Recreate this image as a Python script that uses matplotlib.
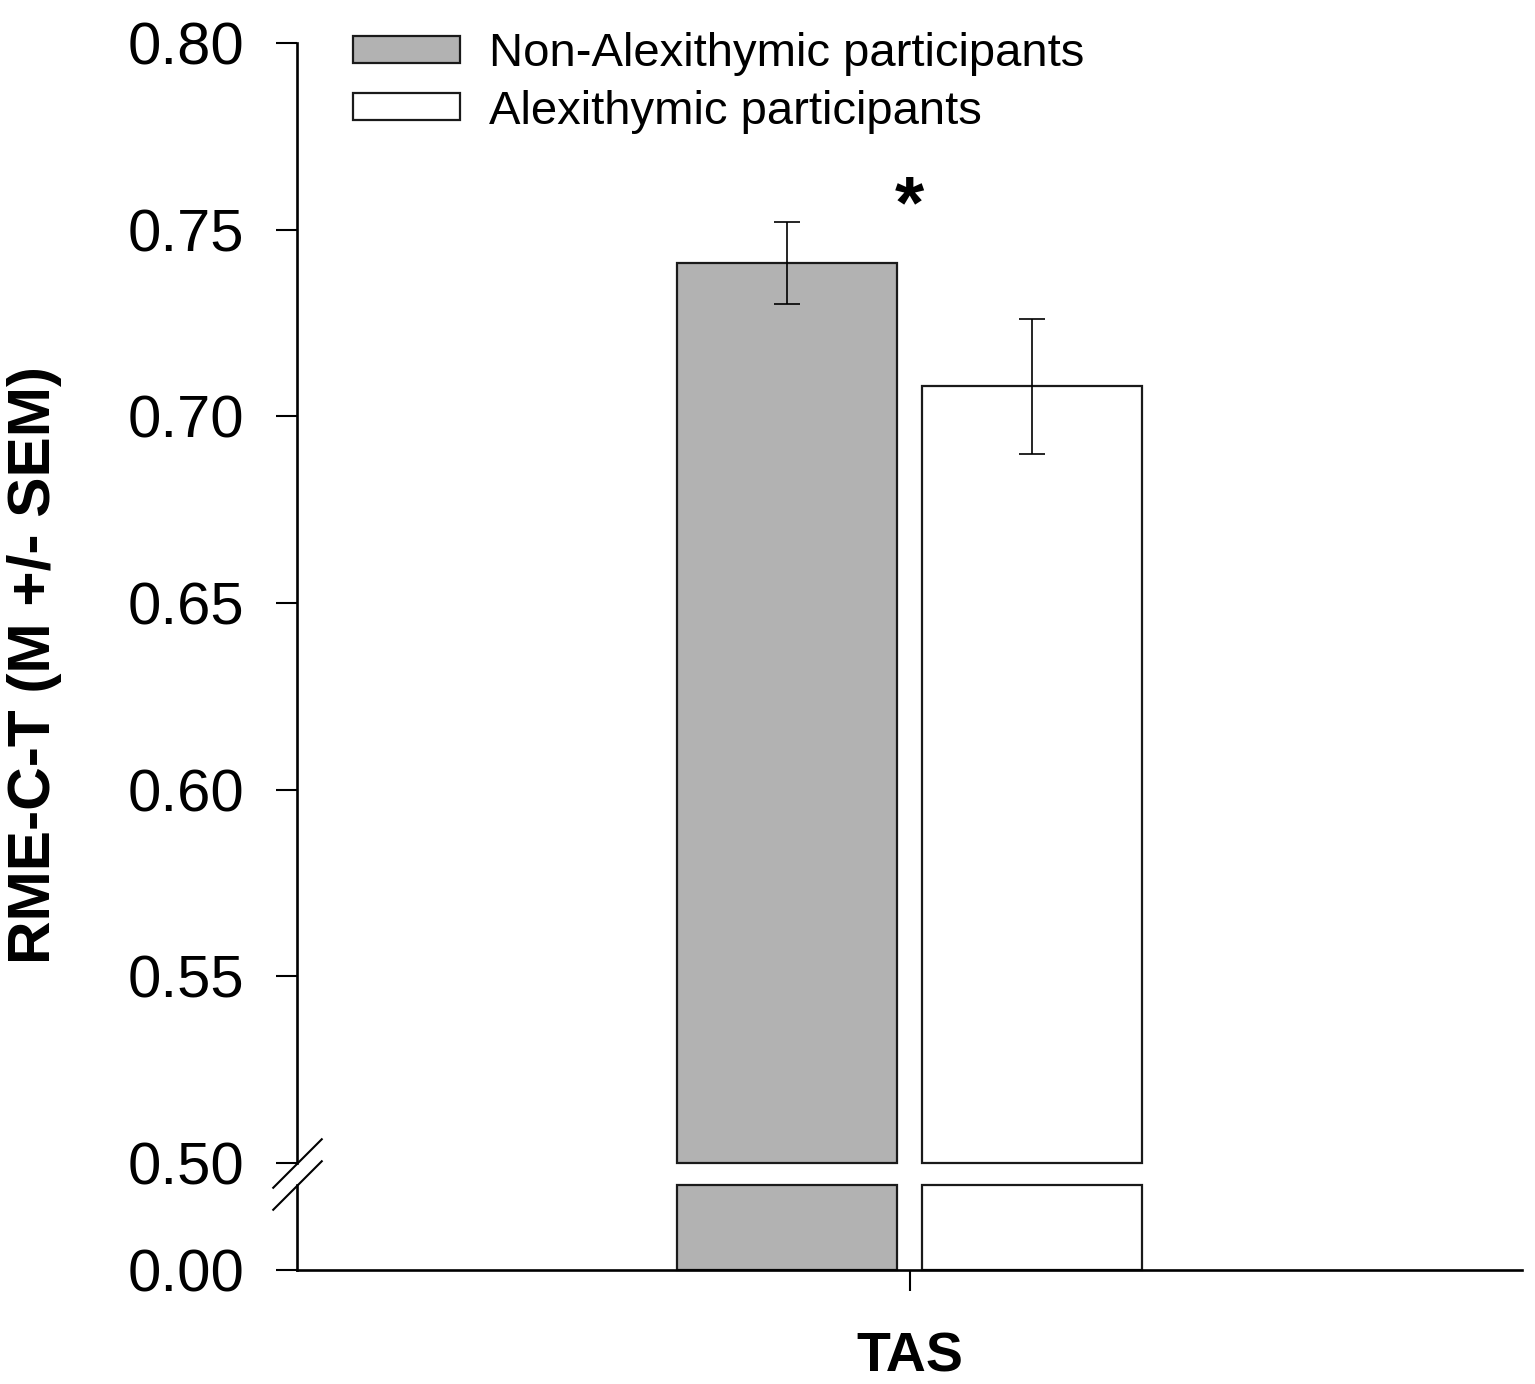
import matplotlib
matplotlib.use("Agg")
import matplotlib.pyplot as plt
import numpy as np

plt.rcParams['font.family'] = ['Liberation Sans', 'DejaVu Sans']

# data
groups = ["Non-Alexithymic participants", "Alexithymic participants"]
means = [0.741, 0.708]
sems = [0.011, 0.018]
colors = ["#b2b2b2", "#ffffff"]
x_pos = [-0.2, 0.2]
category = "TAS"
break_val = 0.50
top_ticks = [0.50, 0.55, 0.60, 0.65, 0.70, 0.75, 0.80]
bottom_ticks = [0.00]

fig = plt.figure(figsize=(15.35, 13.84), dpi=100)
W, H = 1535.0, 1384.0
left = 297 / W
width = (1522 - 297) / W
ax = fig.add_axes([left, 1 - 1163 / H, width, (1163 - 43) / H])
ax2 = fig.add_axes([left, 1 - 1270 / H, width, (1270 - 1185) / H])

bw = 0.36
# upper part
for i in range(2):
    ax.bar(x_pos[i], means[i] - break_val, bottom=break_val, width=bw,
           color=colors[i], edgecolor="#1a1a1a", linewidth=1.6,
           label=groups[i], clip_on=False, zorder=2)
    ax.errorbar(x_pos[i], means[i], yerr=sems[i], color="black",
                elinewidth=1.2, capsize=9.5, capthick=1.2, zorder=3)
    # lower part
    ax2.bar(x_pos[i], break_val, width=bw, color=colors[i],
            edgecolor="#1a1a1a", linewidth=1.6, clip_on=False, zorder=2)

ax.set_xlim(-1, 1)
ax2.set_xlim(-1, 1)
ax.set_ylim(0.50, 0.80)
ax2.set_ylim(0, break_val)

ax.set_yticks(top_ticks)
ax.set_yticklabels(["%.2f" % t for t in top_ticks])
ax2.set_yticks(bottom_ticks)
ax2.set_yticklabels(["%.2f" % t for t in bottom_ticks])
ax.set_xticks([])
ax2.set_xticks([0])
ax2.set_xticklabels([""])

for s in ["top", "right", "bottom"]:
    ax.spines[s].set_visible(False)
for s in ["top", "right"]:
    ax2.spines[s].set_visible(False)
for a in [ax, ax2]:
    for s in ["left", "bottom"]:
        a.spines[s].set_linewidth(1.9)
    a.tick_params(axis="both", direction="out", length=15, width=1.5,
                  labelsize=43, pad=23)
    a.set_facecolor("none")

ax2.set_xlabel(category, fontsize=40, fontweight="bold", labelpad=6)
fig.text(35 / W, 1 - 665 / H, "RME-C-T (M +/- SEM)", rotation=90,
         fontsize=43.5, fontweight="bold", ha="center", va="center")

# break marks
mk = [(-1, -1), (1, 1)]
ax.plot([0], [0], marker=mk, markersize=36, color="black", mew=1.5,
        transform=ax.transAxes, clip_on=False, linestyle="none")
ax2.plot([0], [1], marker=mk, markersize=36, color="black", mew=1.5,
         transform=ax2.transAxes, clip_on=False, linestyle="none")

# significance
ax.text(0, 0.7558, "*", fontsize=54, fontweight="bold", ha="center", va="center")

leg = ax.legend(loc="upper left", bbox_to_anchor=(353 / W, 1 - 32 / H),
                bbox_transform=fig.transFigure, frameon=False, fontsize=34,
                handlelength=2.27, handleheight=0.5, handletextpad=0.6,
                labelspacing=0.29, borderpad=0, borderaxespad=0)

fig.savefig("out.png", dpi=100)
